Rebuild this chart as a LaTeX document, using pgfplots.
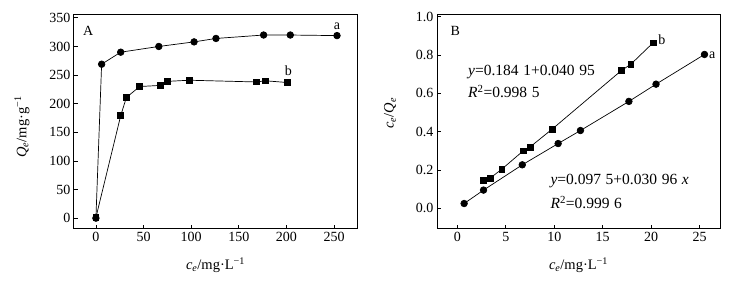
\documentclass[border=0pt]{standalone}
\usepackage{fontspec}
\setmainfont{Liberation Serif}
\usepackage{pgfplots}
\pgfplotsset{compat=1.18}
\newcommand{\gs}{\hspace{0.3em}}
\begin{document}
\begin{tikzpicture}
\path[use as bounding box] (0pt,0pt) rectangle (756pt,289pt);
\pgfplotsset{
  every axis/.append style={
    scale only axis, width=283pt, height=214pt, anchor=south west,
    axis line style={line width=1pt},
    tick style={black, line width=0.8pt},
    tick align=inside, xtick pos=bottom, ytick pos=left,
    major tick length=4pt,
    /pgf/number format/assume math mode=true,
    tick label style={font=\fontsize{14}{16}\selectfont},
    label style={font=\fontsize{14.5}{16}\selectfont},
    clip=false,
  },
}
\tikzset{lab/.style={font=\fontsize{14}{16}\selectfont, anchor=center, inner sep=0pt},
         eq/.style={font=\fontsize{15.5}{17}\selectfont, anchor=west, inner sep=0pt}}
% Panel A
\begin{axis}[
  at={(74pt,60pt)},
  xmin=-23, xmax=274, ymin=-19, ymax=355,
  xtick={0,50,...,250}, ytick={0,50,...,350},
  xlabel={\textit{c}\textsubscript{\textit{e}}/mg·L\textsuperscript{−1}},
  ylabel={\textit{Q}\textsubscript{\textit{e}}/mg·g\textsuperscript{−1}},
  xlabel style={at={(axis description cs:0.5,-0.168)}, anchor=center},
  ylabel style={at={(axis description cs:-0.184,0.477)}, anchor=center},
]
\addplot[black, line width=0.7pt, mark=*, mark size=3.3pt] coordinates {
 (0,0) (6,269) (26,290) (66,300) (103,308) (126,314) (176,320) (204,320) (253,319)
};
\addplot[black, line width=0.7pt, mark=square*, mark size=2.9pt] coordinates {
 (0,1) (26,179) (32,211) (46,230) (68,232) (75,239) (98,241) (168,238) (178,240) (201,237)
};
\node[lab] at (axis cs:-8,327) {A};
\node[lab] at (axis cs:253,336) {a};
\node[lab] at (axis cs:202,258) {b};
\end{axis}
% Panel B
\begin{axis}[
  at={(437pt,60pt)},
  xmin=-2.1, xmax=27.1, ymin=-0.108, ymax=1.009,
  xtick={0,5,...,25}, ytick={0,0.2,...,1.0},
  yticklabel style={/pgf/number format/.cd, fixed, fixed zerofill, precision=1},
  xlabel={\textit{c}\textsubscript{\textit{e}}/mg·L\textsuperscript{−1}},
  ylabel={\textit{c}\textsubscript{\textit{e}}/\textit{Q}\textsubscript{\textit{e}}},
  xlabel style={at={(axis description cs:0.5,-0.168)}, anchor=center},
  ylabel style={at={(axis description cs:-0.166,0.54)}, anchor=center},
]
\addplot[black, line width=0.7pt, mark=*, mark size=3.3pt] coordinates {
 (0.7,0.025) (2.7,0.095) (6.7,0.227) (10.4,0.338) (12.7,0.406) (17.7,0.558) (20.5,0.648) (25.5,0.803)
};
\addplot[black, line width=0.7pt, mark=square*, mark size=2.9pt] coordinates {
 (2.7,0.147) (3.4,0.158) (4.6,0.205) (6.8,0.300) (7.5,0.320) (9.8,0.414) (16.9,0.718) (17.9,0.752) (20.2,0.864)
};
\node[lab] at (axis cs:-0.2,0.925) {B};
\node[lab] at (axis cs:21.1,0.88) {b};
\node[lab] at (axis cs:26.3,0.80) {a};
\node[eq] at (axis cs:1.1,0.71) {\textit{y}=0.184\gs1+0.040\gs95};
\node[eq] at (axis cs:1.1,0.61) {\textit{R}\textsuperscript{2}=0.998\gs5};
\node[eq] at (axis cs:9.6,0.14) {\textit{y}=0.097\gs5+0.030\gs96\gs\textit{x}};
\node[eq] at (axis cs:9.6,0.03) {\textit{R}\textsuperscript{2}=0.999\gs6};
\end{axis}
\end{tikzpicture}
\end{document}
